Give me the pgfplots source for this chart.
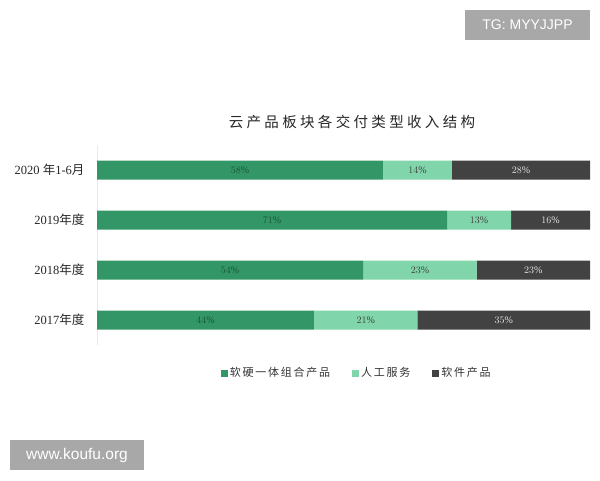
\documentclass[border=0pt]{standalone}
\usepackage{fontspec}
\setmainfont{Liberation Serif}
\newfontfamily\cjkf{Noto Sans CJK SC}
\newfontfamily\cjkt[LetterSpace=23]{Noto Sans CJK SC}
\newfontfamily\cjkl[LetterSpace=16]{Noto Sans CJK SC}
\newfontfamily\wmf{Liberation Sans}
\newcommand\cjk[1]{{\cjkf #1}}
\usepackage{pgfplots}
\pgfplotsset{compat=1.18}
\definecolor{dkgreen}{RGB}{50,150,102}
\definecolor{ltgreen}{RGB}{128,214,170}
\definecolor{dkgray}{RGB}{66,66,66}
\definecolor{wmgray}{RGB}{168,168,168}
\definecolor{lbgreen}{RGB}{25,85,55}

\begin{document}
\begin{tikzpicture}
\path (0,0) rectangle (600pt,-480pt);
% watermarks
\node[fill=wmgray, text=white, minimum width=125pt, minimum height=30pt, inner sep=0pt,
      font=\wmf\fontsize{14}{16}\selectfont] at (527.5pt,-25pt) {TG: MYYJJPP};
\node[fill=wmgray, text=white, minimum width=134pt, minimum height=30pt, inner sep=0pt,
      font=\wmf\fontsize{15.5}{17}\selectfont] at (77pt,-455pt) {www.koufu.org};
% title
\node[font=\cjkt\fontsize{14.5}{16}\selectfont, text=black!85] at (352pt,-122pt) {云产品板块各交付类型收入结构};
\begin{axis}[
  at={(97pt,-345pt)}, anchor=south west,
  scale only axis, width=493pt, height=200pt,
  xbar stacked, bar width=19pt,
  xmin=0, xmax=100, ymin=-0.5, ymax=3.5, y dir=reverse,
  axis x line=none, axis y line*=left,
  y axis line style={draw=black!8, -},
  ytick={0,1,2,3}, major tick length=0pt,
  yticklabels={{2020 \cjk{年}1-6\cjk{月}},{2019\cjk{年度}},{2018\cjk{年度}},{2017\cjk{年度}}},
  yticklabel style={font=\fontsize{12.5}{14}\selectfont, xshift=-9pt, text=black!85},
  visualization depends on=rawx \as \rawx,
  nodes near coords={\pgfmathprintnumber[fixed,precision=0]{\rawx}\%},
  every node near coord/.append style={anchor=center, font=\fontsize{10}{11}\selectfont},
  legend style={at={(0.527,-0.14)}, anchor=center, draw=none, legend columns=3,
      font=\cjkl\fontsize{11}{13}\selectfont, text=black!80,
      /tikz/every even column/.append style={column sep=20pt}},
  legend image code/.code={\fill[#1,draw=none] (0pt,-3.5pt) rectangle (7pt,3.5pt);},
]
\addplot+[fill=dkgreen, draw=none, every node near coord/.append style={text=lbgreen}]
  coordinates {(58,0) (71,1) (54,2) (44,3)};
\addplot+[fill=ltgreen, draw=none, every node near coord/.append style={text=black!75}]
  coordinates {(14,0) (13,1) (23,2) (21,3)};
\addplot+[fill=dkgray, draw=none, every node near coord/.append style={text=black!10}]
  coordinates {(28,0) (16,1) (23,2) (35,3)};
\legend{软硬一体组合产品,人工服务,软件产品}
\end{axis}
\end{tikzpicture}
\end{document}
